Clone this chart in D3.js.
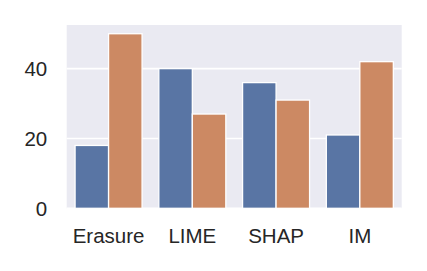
<!DOCTYPE html>
<html>
<head>
<meta charset="utf-8">
<script src="https://cdn.jsdelivr.net/npm/d3@7"></script>
<style>
  body { margin: 0; background: #fff; }
  text { font-family: "Liberation Sans", Arial, sans-serif; fill: #262626; }
</style>
</head>
<body>
<div id="chart"></div>
<script>
// data
var methods = ["Erasure", "LIME", "SHAP", "IM"];
var seriesA = [18, 40, 36, 21];
var seriesB = [50, 27, 31, 42];
var yTicks = [0, 20, 40];
var colors = ["#5975a4", "#cc8963"];

var W = 427, H = 271;
var margin = {top: 25, right: 25.3, bottom: 62.7, left: 66.7};
var width = W - margin.left - margin.right,
    height = H - margin.top - margin.bottom;

var svg = d3.select("#chart").append("svg")
    .attr("width", W)
    .attr("height", H)
    .append("g")
    .attr("transform", "translate(" + margin.left + "," + margin.top + ")");

// background
svg.append("rect")
    .attr("width", width)
    .attr("height", height)
    .attr("fill", "#eaeaf2");

var x = d3.scaleBand().domain(methods).range([0, width]).padding(0);
var x1 = d3.scaleBand().domain([0, 1]).range([x.bandwidth() * 0.1, x.bandwidth() * 0.9]);
var y = d3.scaleLinear().domain([0, 52.5]).range([height, 0]);

// grid
svg.selectAll(".grid")
    .data(yTicks)
    .enter().append("line")
    .attr("x1", 0)
    .attr("x2", width)
    .attr("y1", d => y(d))
    .attr("y2", d => y(d))
    .attr("stroke", "#fff")
    .attr("stroke-width", 1.6);

// bars
var rows = methods.map((m, i) => ({m: m, vals: [seriesA[i], seriesB[i]]}));
var groups = svg.selectAll(".grp")
    .data(rows)
    .enter().append("g")
    .attr("transform", d => "translate(" + x(d.m) + ",0)");

groups.selectAll("rect")
    .data(d => d.vals.map((v, k) => ({k: k, v: v})))
    .enter().append("rect")
    .attr("x", d => x1(d.k))
    .attr("width", x1.bandwidth())
    .attr("y", d => y(d.v))
    .attr("height", d => y(0) - y(d.v))
    .attr("fill", d => colors[d.k])
    .attr("stroke", "#fff")
    .attr("stroke-width", 1.3);

// y axis labels
svg.selectAll(".ylab")
    .data(yTicks)
    .enter().append("text")
    .attr("x", -19.5)
    .attr("y", d => y(d))
    .attr("dy", "0.36em")
    .attr("text-anchor", "end")
    .style("font-size", "20.5px")
    .text(d => d);

// x axis labels
svg.selectAll(".xlab")
    .data(methods)
    .enter().append("text")
    .attr("x", d => x(d) + x.bandwidth() / 2)
    .attr("y", height + 34.4)
    .attr("text-anchor", "middle")
    .style("font-size", "20.5px")
    .text(d => d);
</script>
</body>
</html>
